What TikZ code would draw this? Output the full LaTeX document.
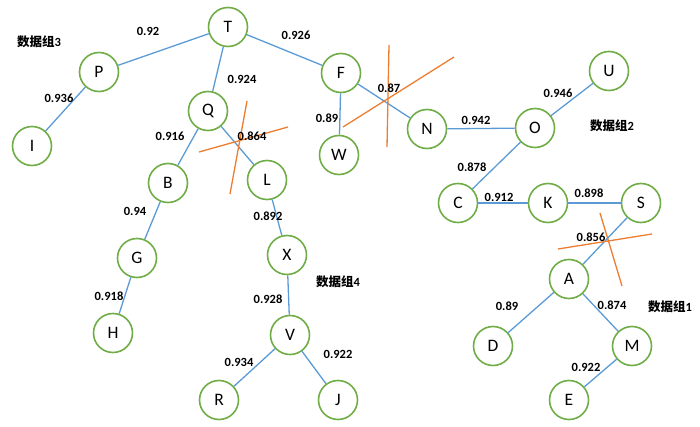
\documentclass[tikz,border=0pt]{standalone}
\usepackage{fontspec}
\setmainfont{Carlito}
\newfontfamily\cjk{Noto Sans CJK SC}
\definecolor{ngreen}{HTML}{70AD47}
\definecolor{eblue}{HTML}{5B9BD5}
\definecolor{xorange}{HTML}{ED7D31}
\tikzset{
  vtx/.style={circle, draw=ngreen, line width=1.6pt, fill=white, minimum size=39pt, inner sep=0pt, font=\fontsize{17.5}{17.5}\selectfont},
  edge/.style={draw=eblue, line width=1.3pt},
  wlbl/.style={font=\bfseries\fontsize{12.5}{12.5}\selectfont, inner sep=0pt},
  grp/.style={font=\bfseries\fontsize{12.5}{13}\selectfont, inner sep=0pt},
  cut/.style={draw=xorange, line width=1.3pt}
}
\newcommand{\grplabel}[1]{{\cjk 数据组}{#1}}
\begin{document}
\begin{tikzpicture}[x=1pt,y=-1pt]
\useasboundingbox (0,0) rectangle (700,427);
% nodes
\node[vtx] (T) at (228,27) {T};
\node[vtx] (P) at (99,72) {P};
\node[vtx] (I) at (32,146) {I};
\node[vtx] (Q) at (208,111) {Q};
\node[vtx] (B) at (168,183) {B};
\node[vtx] (L) at (267,180) {L};
\node[vtx] (G) at (137,258) {G};
\node[vtx] (H) at (113,333) {H};
\node[vtx] (X) at (287,255) {X};
\node[vtx] (V) at (290,335) {V};
\node[vtx] (R) at (219,400) {R};
\node[vtx] (J) at (338,400) {J};
\node[vtx] (F) at (341,73) {F};
\node[vtx] (W) at (339,155) {W};
\node[vtx] (N) at (427,129) {N};
\node[vtx] (O) at (535,128) {O};
\node[vtx] (U) at (609,71) {U};
\node[vtx] (C) at (458,203) {C};
\node[vtx] (K) at (548,203) {K};
\node[vtx] (S) at (641,203) {S};
\node[vtx] (A) at (569,279) {A};
\node[vtx] (D) at (493,346) {D};
\node[vtx] (M) at (632,346) {M};
\node[vtx] (E) at (569,400) {E};
% edges
\foreach \a/\b in {T/P,P/I,T/Q,Q/B,Q/L,B/G,G/H,L/X,X/V,V/R,V/J,T/F,F/W,F/N,N/O,O/U,O/C,C/K,K/S,S/A,A/D,A/M,M/E}
  \draw[edge] (\a) -- (\b);
% cut marks
\draw[cut] (199,152) -- (288,127);
\draw[cut] (247,101) -- (230,194);
\draw[cut] (389,45) -- (387,147);
\draw[cut] (454,57) -- (343,127);
\draw[cut] (558,249) -- (652,234);
\draw[cut] (600,213) -- (622,286);
% weights
\node[wlbl] (w1) at (148,31) {0.92};
\node[wlbl] (w2) at (296,35) {0.926};
\node[wlbl] (w3) at (242,79) {0.924};
\node[wlbl] (w4) at (59,98) {0.936};
\node[wlbl] (w5) at (170,136) {0.916};
\node[wlbl] (w6) at (252,136) {0.864};
\node[wlbl] (w7) at (327,118) {0.89};
\node[wlbl] (w8) at (135,211) {0.94};
\node[wlbl] (w9) at (268,216) {0.892};
\node[wlbl] (w10) at (389,88) {0.87};
\node[wlbl] (w11) at (476,120) {0.942};
\node[wlbl] (w12) at (558,93) {0.946};
\node[wlbl] (w13) at (472,167) {0.878};
\node[wlbl] (w14) at (499,197) {0.912};
\node[wlbl] (w15) at (589,193) {0.898};
\node[wlbl] (w16) at (109,296) {0.918};
\node[wlbl] (w17) at (268,299) {0.928};
\node[wlbl] (w18) at (239,362) {0.934};
\node[wlbl] (w19) at (338,354) {0.922};
\node[wlbl] (w20) at (591,237) {0.856};
\node[wlbl] (w21) at (507,306) {0.89};
\node[wlbl] (w22) at (612,305) {0.874};
\node[wlbl] (w23) at (586,367) {0.922};
% group labels
\node[grp] (g3) at (39,42) {\grplabel{3}};
\node[grp] (g2) at (612,126) {\grplabel{2}};
\node[grp] (g4) at (338,282) {\grplabel{4}};
\node[grp] (g1) at (670,307) {\grplabel{1}};
\end{tikzpicture}
\end{document}
